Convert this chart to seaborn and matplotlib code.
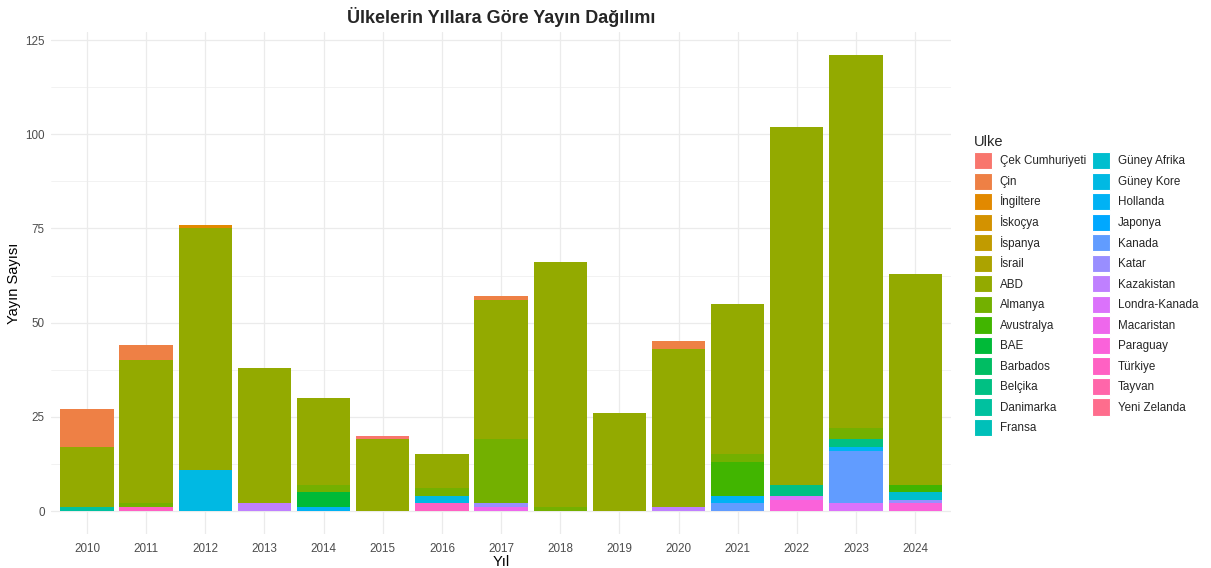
import numpy as np
import pandas as pd
import matplotlib
matplotlib.use("Agg")
import matplotlib.pyplot as plt
import seaborn as sns
from matplotlib.patches import Patch
from matplotlib.ticker import MultipleLocator

######################################################################
# Data
yillar = [2010, 2011, 2012, 2013, 2014, 2015, 2016, 2017,
          2018, 2019, 2020, 2021, 2022, 2023, 2024]

ulkeler = ['Çek Cumhuriyeti', 'Çin', 'İngiltere', 'İskoçya', 'İspanya',
           'İsrail', 'ABD', 'Almanya', 'Avustralya', 'BAE', 'Barbados',
           'Belçika', 'Danimarka', 'Fransa', 'Güney Afrika', 'Güney Kore',
           'Hollanda', 'Japonya', 'Kanada', 'Katar', 'Kazakistan',
           'Londra-Kanada', 'Macaristan', 'Paraguay', 'Türkiye', 'Tayvan',
           'Yeni Zelanda']

#                 10  11  12  13  14  15  16  17  18  19  20  21  22  23  24
cek_cumhuriyeti = [0,  0,  0,  0,  0,  1,  0,  0,  0,  0,  0,  0,  0,  0,  0]
cin =             [10, 4,  0,  0,  0,  0,  0,  1,  0,  0,  2,  0,  0,  0,  0]
ingiltere =       [0,  0,  1,  0,  0,  0,  0,  0,  0,  0,  0,  0,  0,  0,  0]
abd =             [16, 38, 64, 36, 23, 19, 9,  37, 65, 26, 42, 40, 95, 99, 56]
almanya =         [0,  1,  0,  0,  2,  0,  2,  17, 1,  0,  0,  2,  0,  3,  0]
avustralya =      [0,  0,  0,  0,  0,  0,  0,  0,  0,  0,  0,  9,  0,  0,  2]
bae =             [0,  0,  0,  0,  4,  0,  0,  0,  0,  0,  0,  0,  0,  0,  0]
belcika =         [0,  0,  0,  0,  0,  0,  0,  0,  0,  0,  0,  0,  3,  2,  0]
danimarka =       [1,  0,  0,  0,  0,  0,  0,  0,  0,  0,  0,  0,  0,  0,  0]
guney_afrika =    [0,  0,  0,  0,  0,  0,  0,  0,  0,  0,  0,  0,  0,  0,  2]
guney_kore =      [0,  0,  11, 0,  0,  0,  2,  0,  0,  0,  0,  0,  0,  0,  0]
hollanda =        [0,  0,  0,  0,  1,  0,  0,  0,  0,  0,  0,  2,  0,  1,  0]
kanada =          [0,  0,  0,  0,  0,  0,  0,  0,  0,  0,  0,  2,  0,  14, 0]
katar =           [0,  0,  0,  0,  0,  0,  0,  1,  0,  0,  0,  0,  0,  0,  1]
kazakistan =      [0,  0,  0,  2,  0,  0,  0,  0,  0,  0,  1,  0,  0,  0,  0]
londra_kanada =   [0,  0,  0,  0,  0,  0,  0,  0,  0,  0,  0,  0,  1,  2,  0]
macaristan =      [0,  0,  0,  0,  0,  0,  0,  1,  0,  0,  0,  0,  0,  0,  0]
paraguay =        [0,  0,  0,  0,  0,  0,  0,  0,  0,  0,  0,  0,  3,  0,  2]
turkiye =         [0,  1,  0,  0,  0,  0,  2,  0,  0,  0,  0,  0,  0,  0,  0]
bos = [0] * len(yillar)

degerler = {
    'Çek Cumhuriyeti': cek_cumhuriyeti, 'Çin': cin, 'İngiltere': ingiltere,
    'İskoçya': bos, 'İspanya': bos, 'İsrail': bos, 'ABD': abd,
    'Almanya': almanya, 'Avustralya': avustralya, 'BAE': bae,
    'Barbados': bos, 'Belçika': belcika, 'Danimarka': danimarka,
    'Fransa': bos, 'Güney Afrika': guney_afrika, 'Güney Kore': guney_kore,
    'Hollanda': hollanda, 'Japonya': bos, 'Kanada': kanada, 'Katar': katar,
    'Kazakistan': kazakistan, 'Londra-Kanada': londra_kanada,
    'Macaristan': macaristan, 'Paraguay': paraguay, 'Türkiye': turkiye,
    'Tayvan': bos, 'Yeni Zelanda': bos,
}

rows = []
for u in ulkeler:
    for y, n in zip(yillar, degerler[u]):
        rows.append({'Yil': str(y), 'Ulke': u, 'n': n})
dt = pd.DataFrame(rows)


######################################################################
# ggplot-like hue palette (HCL, l=65, c=100)
def hcl_renk(h, c=100.0, l=65.0):
    xn, yn, zn = 95.047, 100.0, 108.883
    un = 4 * xn / (xn + 15 * yn + 3 * zn)
    vn = 9 * yn / (xn + 15 * yn + 3 * zn)
    u = c * np.cos(np.radians(h))
    v = c * np.sin(np.radians(h))
    Y = yn * ((l + 16) / 116) ** 3
    up = u / (13 * l) + un
    vp = v / (13 * l) + vn
    X = Y * 9 * up / (4 * vp)
    Z = Y * (12 - 3 * up - 20 * vp) / (4 * vp)
    xyz = np.array([X, Y, Z]) / 100.0
    m = np.array([[3.240479, -1.537150, -0.498535],
                  [-0.969256, 1.875992, 0.041556],
                  [0.055648, -0.204043, 1.057311]])
    rgb = m @ xyz
    rgb = np.where(rgb <= 0.0031308, 12.92 * rgb,
                   1.055 * np.power(np.clip(rgb, 0, None), 1 / 2.4) - 0.055)
    return tuple(np.clip(rgb, 0, 1))


k = len(ulkeler)
hues = np.linspace(15, 375, k + 1)[:k]
renkler = {u: hcl_renk(h) for u, h in zip(ulkeler, hues)}

######################################################################
# Plot
sns.set_theme(style="white")
plt.rcParams['font.family'] = ['Liberation Sans', 'DejaVu Sans']

fig = plt.figure(figsize=(12.11, 5.68), dpi=100)
ax = fig.add_axes([0.0425, 0.0602, 0.7425, 0.8829])

yil_str = [str(y) for y in yillar]
alt = np.zeros(len(yillar))
for u in ulkeler[::-1]:  # first level on top, like ggplot
    d = dt[dt['Ulke'] == u]
    sns.barplot(data=d, x='Yil', y='n', order=yil_str, color=renkler[u],
                saturation=1, width=0.9, errorbar=None, linewidth=0,
                bottom=alt.copy(), ax=ax, zorder=3)
    alt = alt + np.array(degerler[u])

ax.set_xlim(-0.6, len(yillar) - 0.4)
ax.set_ylim(-6.05, 127.05)
ax.yaxis.set_major_locator(MultipleLocator(25))
ax.yaxis.set_minor_locator(MultipleLocator(12.5))
ax.grid(True, which='major', color='#EBEBEB', linewidth=0.9, zorder=0)
ax.grid(True, which='minor', axis='y', color='#EBEBEB', linewidth=0.45, zorder=0)
ax.set_axisbelow(True)
for s in ax.spines.values():
    s.set_visible(False)
ax.tick_params(axis='both', which='both', length=0, labelsize=8.4,
               labelcolor='#4D4D4D')
ax.tick_params(axis='x', pad=6.5)
ax.tick_params(axis='y', pad=5)

ax.set_xlabel('Yıl', fontsize=10.5, color='black', labelpad=0)
ax.set_ylabel('Yayın Sayısı', fontsize=10.5, color='black', labelpad=3)
ax.set_title('Ülkelerin Yıllara Göre Yayın Dağılımı', fontsize=13,
             fontweight='bold', pad=7)

handles = [Patch(facecolor=renkler[u], edgecolor='white', linewidth=0.8, label=u)
           for u in ulkeler]
leg = fig.legend(handles=handles, title='Ulke', ncol=2, frameon=False,
                 loc='upper left', bbox_to_anchor=(0.8005, 0.771),
                 fontsize=8.4, title_fontsize=10.5, handlelength=1.5,
                 handleheight=1.9, labelspacing=0.28, handletextpad=0.7,
                 columnspacing=0.55, borderaxespad=0, alignment='left')

fig.savefig('out.png', dpi=100)
